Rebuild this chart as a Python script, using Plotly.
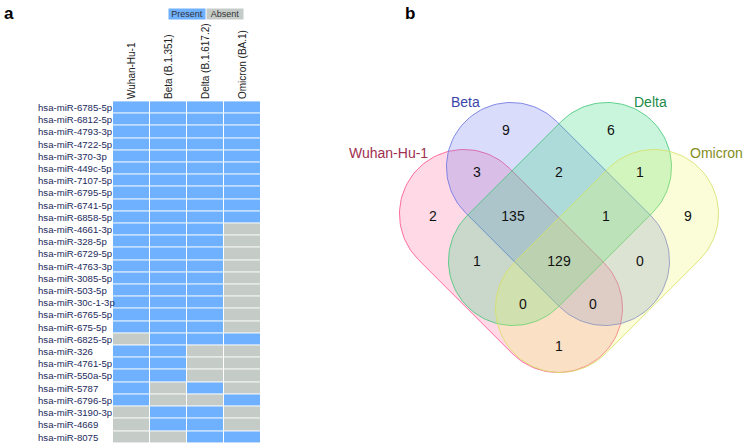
import numpy as np
import plotly.graph_objects as go

W, H = 744, 445

# ---------------- data: panel a (heatmap) ----------------
mirnas = ["hsa-miR-6785-5p", "hsa-miR-6812-5p", "hsa-miR-4793-3p", "hsa-miR-4722-5p",
          "hsa-miR-370-3p", "hsa-miR-449c-5p", "hsa-miR-7107-5p", "hsa-miR-6795-5p",
          "hsa-miR-6741-5p", "hsa-miR-6858-5p", "hsa-miR-4661-3p", "hsa-miR-328-5p",
          "hsa-miR-6729-5p", "hsa-miR-4763-3p", "hsa-miR-3085-5p", "hsa-miR-503-5p",
          "hsa-miR-30c-1-3p", "hsa-miR-6765-5p", "hsa-miR-675-5p", "hsa-miR-6825-5p",
          "hsa-miR-326", "hsa-miR-4761-5p", "hsa-miR-550a-5p", "hsa-miR-5787",
          "hsa-miR-6796-5p", "hsa-miR-3190-3p", "hsa-miR-4669", "hsa-miR-8075"]
variants = ["Wuhan-Hu-1", "Beta (B.1.351)", "Delta (B.1.617.2)", "Omicron (BA.1)"]
wuhan   = [1]*19 + [0, 1, 1, 1, 1, 1, 0, 0, 0]
beta    = [1]*19 + [1, 1, 1, 1, 0, 0, 1, 1, 0]
delta   = [1]*19 + [1, 0, 0, 0, 1, 0, 1, 1, 1]
omicron = [1]*10 + [0]*9 + [1, 0, 0, 0, 0, 1, 0, 0, 1]
legend_labels = ["Present", "Absent"]

# ---------------- data: panel b (Venn) ----------------
set_names = ["Wuhan-Hu-1", "Beta", "Delta", "Omicron"]
region_keys = ["1000", "0100", "0010", "0001", "1100", "0110", "0011", "1110",
               "0111", "1111", "1010", "0101", "1011", "1101", "1001"]
region_counts = [2, 9, 6, 9, 3, 2, 1, 135, 1, 129, 1, 0, 0, 0, 1]

# ---------------- styles / layout constants ----------------
BLUE = "#6fb0ff"
GRAY = "#c5cbc7"
FONT = "Liberation Sans, Arial, sans-serif"

hm_left, hm_right, hm_top, hm_bottom = 113, 261, 100, 444.5
row_label_left = 36

# Venn geometry (pixel units, relative to centre)
VCX, VCY = 559, 262
R = 64.5
caps = {
    "Wuhan-Hu-1": ((-95, -48), (-1, 46)),
    "Beta": ((-48, -95), (46, -1)),
    "Delta": ((48, -95), (-46, -1)),
    "Omicron": ((95, -48), (1, 46)),
}
fill_rgb = {"Wuhan-Hu-1": (255, 103, 155), "Beta": (103, 115, 235),
            "Delta": (40, 215, 120), "Omicron": (235, 247, 95)}
line_col = {"Wuhan-Hu-1": "rgba(255,85,145,0.85)", "Beta": "rgba(110,118,225,0.85)",
            "Delta": "rgba(70,200,125,0.85)", "Omicron": "rgba(215,225,105,0.85)"}
name_col = {"Wuhan-Hu-1": "#a0304f", "Beta": "#3c45a8", "Delta": "#1c8a4a", "Omicron": "#848e22"}
name_pos = {"Wuhan-Hu-1": (-171, -109), "Beta": (-94, -160),
            "Delta": (91, -160), "Omicron": (157, -109)}
label_off = {"1000": (-126, -45), "0100": (-53, -131), "0010": (52, -131), "0001": (129, -45),
             "1100": (-82, -89), "0110": (0, -89), "0011": (81, -89), "1110": (-46, -45),
             "0111": (47, -45), "1111": (0, 0), "1010": (-82, 0), "0101": (81, 0),
             "1011": (-36, 43), "1101": (34, 43), "1001": (0, 85)}


def capsule(c1, c2, r, n=60):
    c1 = np.array(c1, float) + [VCX, VCY]
    c2 = np.array(c2, float) + [VCX, VCY]
    d = (c2 - c1) / np.linalg.norm(c2 - c1)
    nrm = np.array([-d[1], d[0]])
    th0 = np.arctan2(nrm[1], nrm[0])
    a1 = np.linspace(th0, th0 + np.pi, n)
    a2 = np.linspace(th0 + np.pi, th0 + 2 * np.pi, n)
    p1 = c1 + r * np.column_stack([np.cos(a1), np.sin(a1)])
    p2 = c2 + r * np.column_stack([np.cos(a2), np.sin(a2)])
    pts = np.vstack([p1, p2, p1[:1]])
    return pts[:, 0], pts[:, 1]


fig = go.Figure()

# heatmap
z = [list(r) for r in zip(wuhan, beta, delta, omicron)]
fig.add_trace(go.Heatmap(
    z=z, x=variants, y=mirnas, zmin=0, zmax=1,
    colorscale=[[0, GRAY], [0.5, GRAY], [0.5, BLUE], [1, BLUE]],
    showscale=False, xgap=1, ygap=1, hoverinfo="skip",
    xaxis="x", yaxis="y"))

# venn shapes
for s in set_names:
    xs, ys = capsule(*caps[s], R)
    rr, gg, bb = fill_rgb[s]
    fig.add_trace(go.Scatter(
        x=xs, y=ys, mode="lines", fill="toself",
        fillcolor=f"rgba({rr},{gg},{bb},0.25)",
        line=dict(color=line_col[s], width=1),
        hoverinfo="skip", showlegend=False, xaxis="x2", yaxis="y2"))

# region counts
fig.add_trace(go.Scatter(
    x=[VCX + label_off[k][0] for k in region_keys],
    y=[VCY + label_off[k][1] for k in region_keys],
    text=[str(v) for v in region_counts], mode="text",
    textfont=dict(family=FONT, size=14, color="#111111"),
    textposition="middle center", cliponaxis=False,
    hoverinfo="skip", showlegend=False, xaxis="x2", yaxis="y2"))

annotations = []
# left-aligned row labels
for m in mirnas:
    annotations.append(dict(
        x=row_label_left / W, y=m, xref="paper", yref="y", xanchor="left",
        text=m, showarrow=False,
        font=dict(family=FONT, size=9.6, color="#1c2a5c")))

for s in set_names:
    annotations.append(dict(
        x=VCX + name_pos[s][0], y=VCY + name_pos[s][1], xref="x2", yref="y2",
        text=s, showarrow=False, font=dict(family=FONT, size=14, color=name_col[s])))

# legend boxes
for lab, col, xc in zip(legend_labels, [BLUE, GRAY], [168, 206]):
    annotations.append(dict(
        x=xc / W, y=1 - 8 / H, xref="paper", yref="paper", text=lab,
        showarrow=False, bgcolor=col, width=36, height=10, borderpad=0,
        font=dict(family=FONT, size=9, color="#333333")))

# panel letters
for lab, xp in [("a", 2), ("b", 403)]:
    annotations.append(dict(
        x=xp / W, y=1 - 2 / H, xref="paper", yref="paper", xanchor="left", yanchor="top",
        text=f"<b>{lab}</b>", showarrow=False,
        font=dict(family=FONT, size=17, color="#000000")))

v_left = 330
fig.update_layout(
    width=W, height=H, autosize=False,
    margin=dict(l=0, r=0, t=0, b=0),
    paper_bgcolor="white", plot_bgcolor="rgba(0,0,0,0)",
    showlegend=False, annotations=annotations,
    xaxis=dict(domain=[hm_left / W, hm_right / W], side="top", tickangle=-90,
               tickfont=dict(family=FONT, size=10, color="#222222"),
               showgrid=False, zeroline=False, showline=False, ticks="", automargin=False,
               fixedrange=True),
    yaxis=dict(domain=[1 - hm_bottom / H, 1 - hm_top / H], autorange="reversed",
               showticklabels=False,
               showgrid=False, zeroline=False, showline=False, ticks="", automargin=False,
               fixedrange=True),
    xaxis2=dict(domain=[v_left / W, 1], range=[v_left, W], visible=False, fixedrange=True),
    yaxis2=dict(domain=[0, 1], range=[H, 0], visible=False, fixedrange=True),
)

fig.write_html("out.html", config={"displayModeBar": False},
               post_script="document.body.style.margin='0';document.body.style.overflow='hidden';")
